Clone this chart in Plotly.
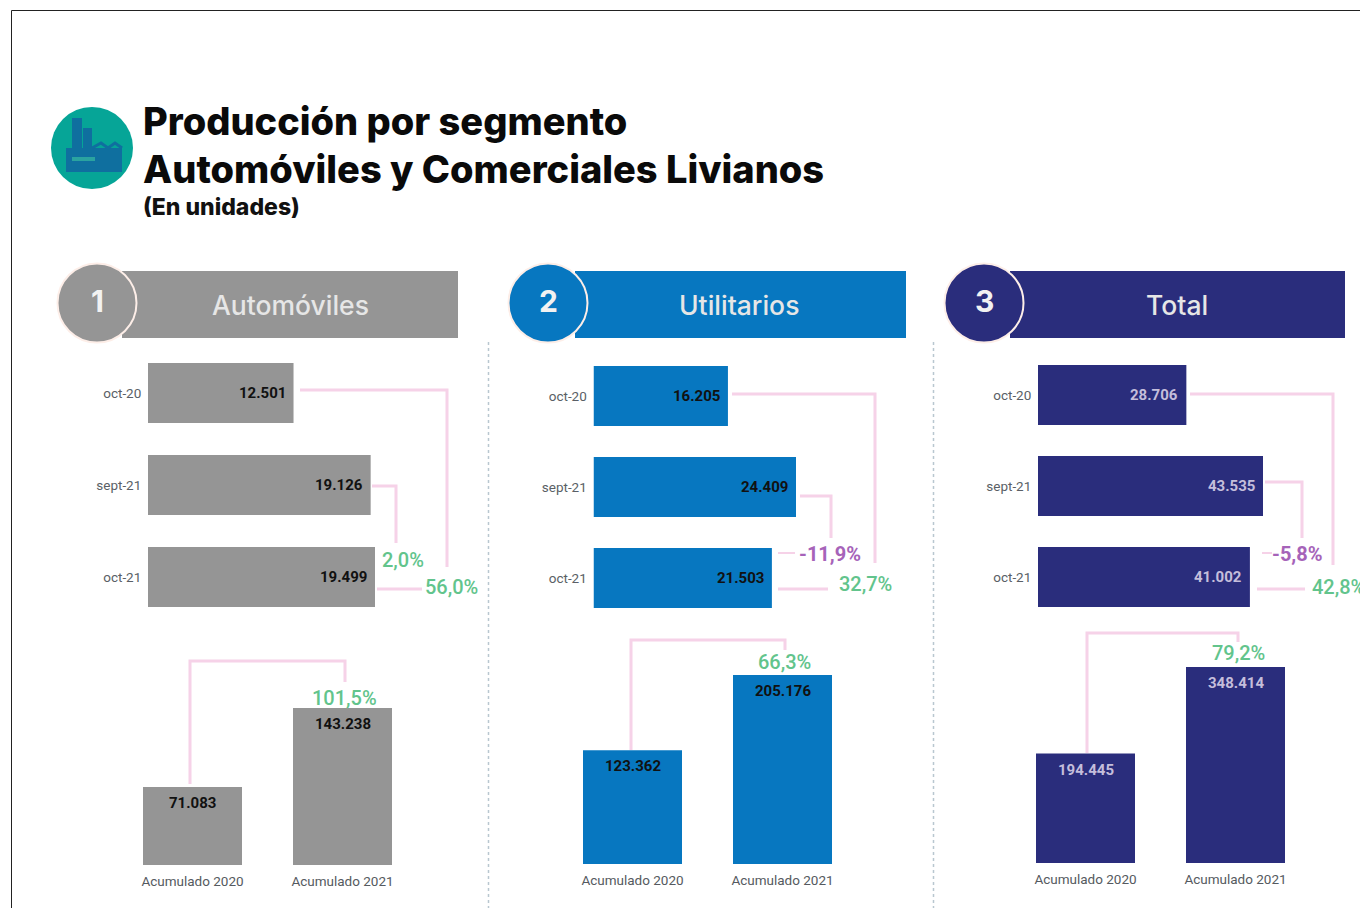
import plotly.graph_objects as go

# ---------- data ----------
months = ["oct-20", "sept-21", "oct-21"]
accum_labels = ["Acumulado 2020", "Acumulado 2021"]

auto_monthly = [12501, 19126, 19499]
auto_accum = [71083, 143238]
util_monthly = [16205, 24409, 21503]
util_accum = [123362, 205176]
total_monthly = [28706, 43535, 41002]
total_accum = [194445, 348414]

panel_names = ["Automóviles", "Utilitarios", "Total"]
panel_numbers = ["1", "2", "3"]
panel_colors = ["#959595", "#0777c0", "#2a2d7c"]
value_colors = ["#111111", "#111111", "#c4bedb"]

pct_monthly_vs_sept = ["2,0%", "-11,9%", "-5,8%"]
pct_monthly_vs_oct = ["56,0%", "32,7%", "42,8%"]
pct_accum = ["101,5%", "66,3%", "79,2%"]

# ---------- layout helpers ----------
W, H = 1360, 908
GREEN = "#62c48c"
PURPLE = "#a663b9"
PINK = "#f6d2e8"
FX = lambda v: v / W
FY = lambda v: 1 - v / H


def es(v):
    return f"{v:,}".replace(",", ".")


fig = go.Figure()
annotations = []
shapes = []


def text(x, y, s, size, color, weight=400, anchor="center", family="Roboto"):
    annotations.append(dict(
        x=FX(x), y=FY(y), xref="paper", yref="paper", text=s, showarrow=False,
        xanchor=anchor, yanchor="middle",
        font=dict(size=size, color=color, family=family, weight=weight),
    ))


def polyline(points, width=3, color=PINK):
    path = "M " + " L ".join(f"{FX(x)},{FY(y)}" for x, y in points)
    shapes.append(dict(type="path", path=path, xref="paper", yref="paper",
                       line=dict(color=color, width=width), layer="below"))


def rect(x0, y0, x1, y1, color, layer="below"):
    shapes.append(dict(type="rect", xref="paper", yref="paper",
                       x0=FX(x0), x1=FX(x1), y0=FY(y0), y1=FY(y1),
                       fillcolor=color, line=dict(width=0), layer=layer))


def circle(cx, cy, r, color, edge=None):
    shapes.append(dict(type="circle", xref="paper", yref="paper",
                       x0=FX(cx - r), x1=FX(cx + r), y0=FY(cy - r), y1=FY(cy + r),
                       fillcolor=color,
                       line=dict(width=2 if edge else 0, color=edge or color),
                       layer="below"))


# page frame
shapes.append(dict(type="line", xref="paper", yref="paper", x0=FX(11.5), x1=FX(11.5),
                   y0=FY(10.5), y1=0, line=dict(color="#222222", width=1)))
shapes.append(dict(type="line", xref="paper", yref="paper", x0=FX(11.5), x1=1,
                   y0=FY(10.5), y1=FY(10.5), line=dict(color="#222222", width=1)))

# title block
circle(92, 148, 41, "#06a597")
ICON = "#0f6f9f"
rect(72, 118, 82, 150, ICON)
rect(83, 128, 92, 150, ICON)
rect(66, 148, 122, 172, ICON)
polyline([(92, 148), (101, 143), (108, 148), (115, 143), (122, 148)], width=3, color=ICON)
rect(72, 157, 95, 161, "#2aa3a0")
text(141, 121, "Producción por segmento", 38, "#0a0a0a", 800, "left", "Inter")
text(141, 169, "Automóviles y Comerciales Livianos", 38, "#0a0a0a", 800, "left", "Inter")
text(141, 207, "(En unidades)", 23, "#111111", 800, "left", "Inter")

# panel separators
for sx in (488.5, 933.5):
    shapes.append(dict(type="line", xref="paper", yref="paper", x0=FX(sx), x1=FX(sx),
                       y0=FY(342), y1=0,
                       line=dict(color="#b9c7d0", width=1.5, dash="dot")))

# per-panel geometry in page pixels
band_x = [(122, 458), (575, 906), (1010, 1345)]
circle_c = [(97, 303), (548, 303), (984, 303)]
name_x = [290, 739, 1177]

h_left = [148, 593.5, 1038]        # x of the zero line of the monthly bars
h_right = [375, 796, 1263]         # x of the longest monthly bar
h_center = [393, 396, 395]         # y of the first monthly bar
h_pitch = [92, 91, 91]
v_base = [865, 864, 863]           # y of the zero line of the accumulated bars
v_top = [708, 675, 667]            # y of the tallest accumulated bar
v_center = [192.5, 632.5, 1085.5]  # x of the first accumulated bar
V_PITCH = 150
BAR_H = 60
BAR_V = 99

monthly = [auto_monthly, util_monthly, total_monthly]
accum = [auto_accum, util_accum, total_accum]

layout_axes = {}
ax = 0
for p in range(3):
    color = panel_colors[p]
    # header
    rect(band_x[p][0], 271, band_x[p][1], 338, color)
    circle(circle_c[p][0], circle_c[p][1], 39.5, color, "#fdeee8")
    text(circle_c[p][0], circle_c[p][1] - 2, panel_numbers[p], 30, "#f2f2f2", 700, family="Inter")
    text(name_x[p], 305, panel_names[p], 26.5, "#e6e6e6", 500, family="Inter")

    # monthly bars
    ax += 1
    fig.add_trace(go.Bar(
        y=months, x=monthly[p], orientation="h", width=BAR_H / h_pitch[p],
        marker=dict(color=color, line=dict(width=0)), xaxis=f"x{ax}", yaxis=f"y{ax}",
        showlegend=False, hoverinfo="x+y",
    ))
    layout_axes[f"xaxis{ax}"] = dict(
        domain=[FX(h_left[p]), FX(h_right[p])], range=[0, max(monthly[p])],
        visible=False, anchor=f"y{ax}", fixedrange=True)
    top = h_center[p] - h_pitch[p] / 2
    bot = h_center[p] + 2.5 * h_pitch[p]
    layout_axes[f"yaxis{ax}"] = dict(
        domain=[FY(bot), FY(top)], type="category", categoryorder="array",
        categoryarray=months, range=[2.5, -0.5], anchor=f"x{ax}", showgrid=False,
        zeroline=False, showline=False, ticks="outside", ticklen=3,
        tickcolor="rgba(0,0,0,0)", tickfont=dict(size=13.5, color="#5a5f66", family="Roboto"),
        fixedrange=True)
    for m, v in zip(months, monthly[p]):
        annotations.append(dict(
            x=v, y=m, xref=f"x{ax}", yref=f"y{ax}", text=es(v), showarrow=False,
            xanchor="right", xshift=-6, yanchor="middle",
            font=dict(size=15, color=value_colors[p], family="Roboto", weight=700)))

    # accumulated bars
    ax += 1
    fig.add_trace(go.Bar(
        x=accum_labels, y=accum[p], width=BAR_V / V_PITCH,
        marker=dict(color=color, line=dict(width=0)), xaxis=f"x{ax}", yaxis=f"y{ax}",
        showlegend=False, hoverinfo="x+y",
    ))
    layout_axes[f"xaxis{ax}"] = dict(
        domain=[FX(v_center[p] - V_PITCH / 2), FX(v_center[p] + 1.5 * V_PITCH)],
        type="category", categoryorder="array", categoryarray=accum_labels,
        range=[-0.5, 1.5], anchor=f"y{ax}", showgrid=False, zeroline=False,
        showline=False, ticks="outside", ticklen=4, tickcolor="rgba(0,0,0,0)",
        tickfont=dict(size=13.5, color="#555a60", family="Roboto"), fixedrange=True)
    layout_axes[f"yaxis{ax}"] = dict(
        domain=[FY(v_base[p]), FY(v_top[p])], range=[0, max(accum[p])],
        visible=False, anchor=f"x{ax}", fixedrange=True)
    for c, v in zip(accum_labels, accum[p]):
        annotations.append(dict(
            x=c, y=v, xref=f"x{ax}", yref=f"y{ax}", text=es(v), showarrow=False,
            xanchor="center", yshift=-16, yanchor="middle",
            font=dict(size=15, color=value_colors[p], family="Roboto", weight=700)))

# connectors
polyline([(300, 390), (447, 390), (447, 567)])
polyline([(377, 589), (422, 589)])
polyline([(372, 486), (396, 486), (396, 543)])
polyline([(190, 784), (190, 661), (345, 661), (345, 682)])

polyline([(732, 394), (875, 394), (875, 563)])
polyline([(778, 589), (828, 589)])
polyline([(800, 496), (831, 496), (831, 538)])
polyline([(778, 553), (795, 553)], width=2)
polyline([(631, 750), (631, 640), (785, 640), (785, 650)])

polyline([(1190, 394), (1333, 394), (1333, 565)])
polyline([(1257, 589), (1305, 589)])
polyline([(1265, 482), (1302, 482), (1302, 538)])
polyline([(1262, 553), (1272, 553)], width=2)
polyline([(1087, 753), (1087, 633), (1238, 633), (1238, 642)])

# percentage labels
PCT = 20
text(402.5, 560, pct_monthly_vs_sept[0], PCT, GREEN, 500)
text(830, 554, pct_monthly_vs_sept[1], PCT, PURPLE, 700)
text(1297, 554, pct_monthly_vs_sept[2], PCT, PURPLE, 700)
text(451, 587, pct_monthly_vs_oct[0], PCT, GREEN, 500)
text(865, 584, pct_monthly_vs_oct[1], PCT, GREEN, 500)
text(1310, 587, pct_monthly_vs_oct[2], PCT, GREEN, 500, "left")
text(344, 698, pct_accum[0], PCT, GREEN, 500)
text(785, 662, pct_accum[1], PCT, GREEN, 500)
text(1238, 653, pct_accum[2], PCT, GREEN, 500)

fig.update_layout(
    width=W, height=H, margin=dict(l=0, r=0, t=0, b=0, pad=0),
    paper_bgcolor="white", plot_bgcolor="rgba(0,0,0,0)",
    shapes=shapes, annotations=annotations, showlegend=False,
    **layout_axes,
)
fig.write_html("out.html", config=dict(displayModeBar=False),
               post_script="document.body.style.margin='0';document.body.style.overflow='hidden';")
